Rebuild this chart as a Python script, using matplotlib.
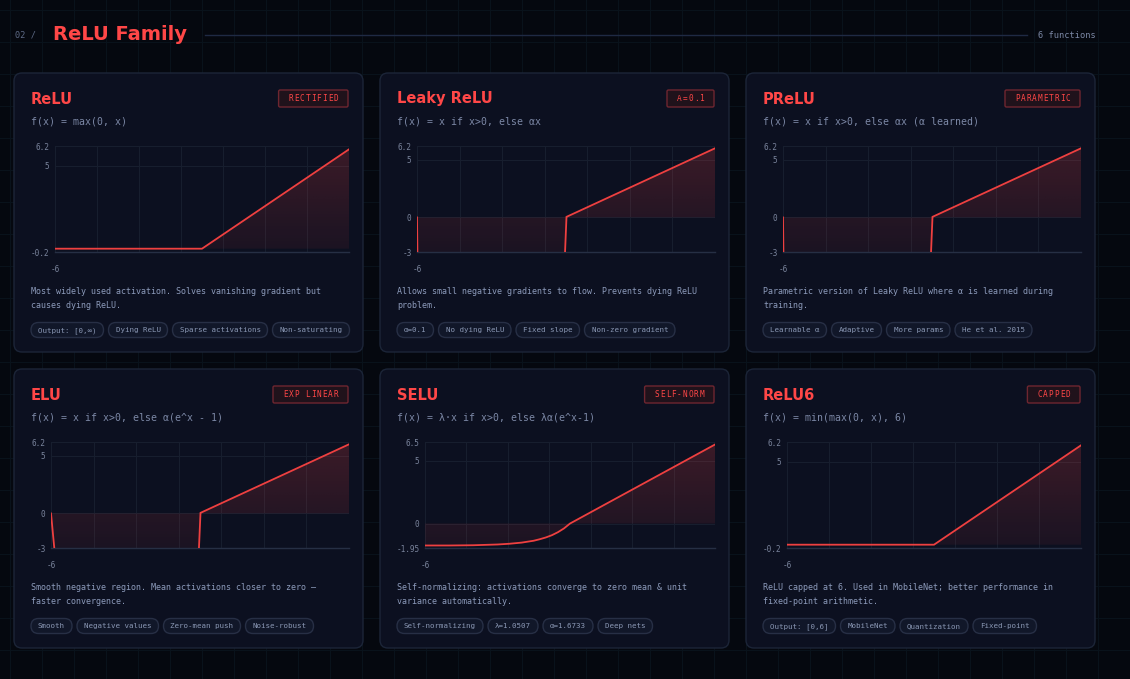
import numpy as np
import matplotlib
matplotlib.use("Agg")
import matplotlib.pyplot as plt
from matplotlib.patches import FancyBboxPatch
from matplotlib.colors import to_rgb

W, H = 1130, 679

# ---- data ----
names = ["ReLU", "Leaky ReLU", "PReLU", "ELU", "SELU", "ReLU6"]
badges = ["RECTIFIED", "Α=0.1", "PARAMETRIC", "EXP LINEAR", "SELF-NORM", "CAPPED"]
formulas = [
    "f(x) = max(0, x)",
    "f(x) = x if x>0, else αx",
    "f(x) = x if x>0, else αx (α learned)",
    "f(x) = x if x>0, else α(e^x - 1)",
    "f(x) = λ·x if x>0, else λα(e^x-1)",
    "f(x) = min(max(0, x), 6)",
]
descriptions = [
    ["Most widely used activation. Solves vanishing gradient but", "causes dying ReLU."],
    ["Allows small negative gradients to flow. Prevents dying ReLU", "problem."],
    ["Parametric version of Leaky ReLU where α is learned during", "training."],
    ["Smooth negative region. Mean activations closer to zero —", "faster convergence."],
    ["Self-normalizing: activations converge to zero mean & unit", "variance automatically."],
    ["ReLU capped at 6. Used in MobileNet; better performance in", "fixed-point arithmetic."],
]
tags = [
    ["Output: [0,∞)", "Dying ReLU", "Sparse activations", "Non-saturating"],
    ["α=0.1", "No dying ReLU", "Fixed slope", "Non-zero gradient"],
    ["Learnable α", "Adaptive", "More params", "He et al. 2015"],
    ["Smooth", "Negative values", "Zero-mean push", "Noise-robust"],
    ["Self-normalizing", "λ=1.0507", "α=1.6733", "Deep nets"],
    ["Output: [0,6]", "MobileNet", "Quantization", "Fixed-point"],
]

# curves as drawn in the reference (values below the axis floor are clipped)
relu_x = [-6, 0, 6]
relu_y = [0, 0, 6]
leaky_x = [-6, -5.98, -0.05, 0.02, 6]
leaky_y = [0, -3.6, -3.6, 0.05, 6]
prelu_x = [-6, -5.98, -0.05, 0.02, 6]
prelu_y = [0, -3.6, -3.6, 0.05, 6]
elu_x = [-6, -5.85, -0.05, 0.02, 6]
elu_y = [0, -3.4, -3.4, 0.05, 6]
selu_x = [-6, -5, -4, -3, -2.5, -2, -1.5, -1.25, -1, -0.75, -0.5, -0.25, 0, 6]
selu_y = [-1.75, -1.75, -1.73, -1.67, -1.61, -1.52, -1.37, -1.25, -1.11, -0.93, -0.69, -0.39, 0, 6.3]
relu6_x = [-6, 0, 6]
relu6_y = [0, 0, 6]
curves = [(relu_x, relu_y), (leaky_x, leaky_y), (prelu_x, prelu_y),
          (elu_x, elu_y), (selu_x, selu_y), (relu6_x, relu6_y)]

y_limits = [(-0.2, 6.2), (-3, 6.2), (-3, 6.2), (-3, 6.2), (-1.95, 6.5), (-0.2, 6.2)]
y_ticks = [[-0.2, 5, 6.2], [-3, 0, 5, 6.2], [-3, 0, 5, 6.2],
           [-3, 0, 5, 6.2], [-1.95, 0, 5, 6.5], [-0.2, 5, 6.2]]
y_ticklabels = [["-0.2", "5", "6.2"], ["-3", "0", "5", "6.2"], ["-3", "0", "5", "6.2"],
                ["-3", "0", "5", "6.2"], ["-1.95", "0", "5", "6.5"], ["-0.2", "5", "6.2"]]

# ---- colours ----
BG = "#05080f"
GRID_BG = "#09121b"
CARD = "#0c1020"
CARD_EDGE = "#1c2538"
RED = "#ff4747"
LINE_RED = "#ee4040"
MUTED = "#7c88a6"
DESC = "#8d9bbb"
TAG_FILL = "#111729"
TAG_EDGE = "#272f45"
TICK = "#7a849c"
AX_GRID = "#171e2e"
MONO = "DejaVu Sans Mono"
SANS = "DejaVu Sans"

fig = plt.figure(figsize=(W / 100, H / 100), dpi=100)
fig.patch.set_facecolor(BG)
bg = fig.add_axes([0, 0, 1, 1])
bg.set_xlim(0, W)
bg.set_ylim(H, 0)
bg.axis("off")
bg.set_facecolor(BG)

# faint page grid
for gx in range(10, W, 32):
    bg.plot([gx, gx], [0, H], color=GRID_BG, lw=0.8, zorder=0)
for gy in range(10, H, 32):
    bg.plot([0, W], [gy, gy], color=GRID_BG, lw=0.8, zorder=0)

# header
bg.text(15, 35, "02 /", color="#5d6a86", fontsize=6.2, family=MONO, va="center", ha="left")
bg.text(53, 35, "ReLU Family", color=RED, fontsize=14, family=SANS, weight="bold",
        va="center", ha="left")
bg.plot([205, 1027], [35, 35], color="#1f2a44", lw=1)
bg.text(1096, 35, "6 functions", color="#7c88a6", fontsize=6.2, family=MONO,
        va="center", ha="right")

col_x = [14, 380, 746]
row_y = [73, 369]
card_w, card_h = 349, 279
chart_left = [41, 37, 37, 37, 45, 41]


def px_to_fig(x, y, w, h):
    return [x / W, 1 - (y + h) / H, w / W, h / H]


def gradient_fill(ax, x, y, ylo, yhi):
    poly = ax.fill_between(x, y, 0, color="none", lw=0)
    rgb = to_rgb(RED)
    n = 256
    grad = np.zeros((n, 2, 4))
    grad[..., 0], grad[..., 1], grad[..., 2] = rgb
    grad[..., 3] = np.linspace(0.06, 0.2, n)[:, None]
    im = ax.imshow(grad, extent=[-6, 6, ylo, yhi], origin="lower", aspect="auto",
                   interpolation="bilinear", zorder=1)
    im.set_clip_path(poly.get_paths()[0], transform=ax.transData)


for i in range(6):
    cx = col_x[i % 3]
    cy = row_y[i // 3]

    card = FancyBboxPatch((cx, cy), card_w, card_h,
                          boxstyle="round,pad=0,rounding_size=8",
                          facecolor=CARD, edgecolor=CARD_EDGE, lw=1, zorder=2)
    bg.add_patch(card)

    # title
    bg.text(cx + 17, cy + 26, names[i], color=RED, fontsize=10.5, family=SANS,
            weight="bold", va="center", ha="left", zorder=3)

    # badge with letter spacing
    b = badges[i]
    step = 5.6
    bw = len(b) * step + 19
    bx = cx + 334 - bw
    bg.add_patch(FancyBboxPatch((bx, cy + 17), bw, 17,
                                boxstyle="round,pad=0,rounding_size=1.5",
                                facecolor="#20121b", edgecolor="#6e2630", lw=1, zorder=3))
    for k, ch in enumerate(b):
        bg.text(bx + 9.5 + step * (k + 0.5), cy + 25.7, ch, color=RED, fontsize=5.6,
                family=MONO, va="center", ha="center", zorder=4)

    # formula
    bg.text(cx + 17, cy + 48, formulas[i], color=MUTED, fontsize=7.1, family=MONO,
            va="center", ha="left", zorder=3)

    # description
    for k, line in enumerate(descriptions[i]):
        bg.text(cx + 17, cy + 218 + 15 * k, line, color=DESC, fontsize=6.0, family=MONO,
                va="center", ha="left", zorder=3)

    # tags
    tx = cx + 17
    cw = 4.5
    for t in tags[i]:
        tw = len(t) * cw + 14
        bg.add_patch(FancyBboxPatch((tx, cy + 249.5), tw, 15,
                                    boxstyle="round,pad=0,rounding_size=7.5",
                                    facecolor=TAG_FILL, edgecolor=TAG_EDGE, lw=1, zorder=3))
        bg.text(tx + tw / 2, cy + 257.2, t, color="#8a97b4", fontsize=5.4, family=MONO,
                va="center", ha="center", zorder=4)
        tx += tw + 5

    # chart
    left = cx + chart_left[i]
    right = cx + 335
    top = cy + 73
    bottom = cy + 179
    ax = fig.add_axes(px_to_fig(left, top, right - left, bottom - top))
    ax.set_facecolor("none")
    ax.set_zorder(5)
    ylo, yhi = y_limits[i]
    ax.set_xlim(-6, 6)
    ax.set_ylim(ylo, yhi)
    x, y = curves[i]
    gradient_fill(ax, x, y, ylo, yhi)
    ax.plot(x, y, color=LINE_RED, lw=1.3, zorder=3, solid_joinstyle="miter")

    ax.set_xticks(np.linspace(-6, 6, 8))
    ax.set_xticklabels(["-6"] + [""] * 7)
    ax.set_yticks(y_ticks[i])
    ax.set_yticklabels(y_ticklabels[i])
    ax.grid(True, color=AX_GRID, lw=0.8)
    ax.set_axisbelow(True)
    ax.tick_params(length=0, labelsize=5.6, labelcolor=TICK, pad=4)
    ax.tick_params(axis="x", pad=9)
    for lbl in ax.get_xticklabels() + ax.get_yticklabels():
        lbl.set_family(MONO)
    for s in ["top", "right", "left"]:
        ax.spines[s].set_visible(False)
    ax.spines["bottom"].set_color("#262f44")
    ax.spines["bottom"].set_linewidth(1)

fig.savefig("out.png", dpi=100, facecolor=BG)
